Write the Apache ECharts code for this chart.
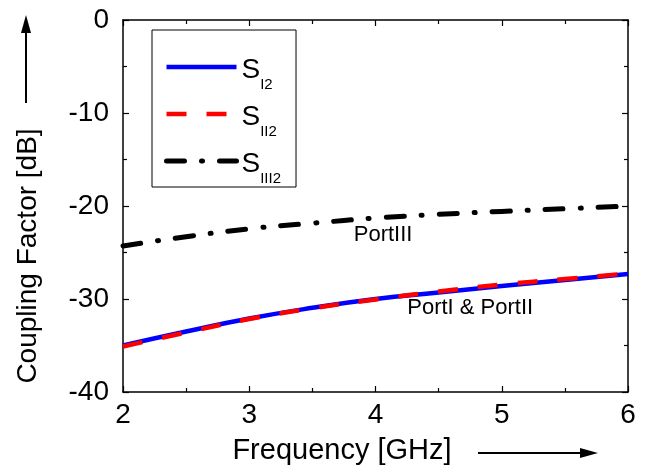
<!DOCTYPE html>
<html><head><meta charset="utf-8">
<script src="https://cdn.jsdelivr.net/npm/echarts@6/dist/echarts.min.js"></script>
<style>html,body{margin:0;padding:0;background:#fff}#c{width:651px;height:472px}</style>
</head><body><div id="c"></div>
<script>
var freq = [2, 2.5, 3, 3.5, 4, 4.5, 5, 5.5, 6];
var sI2 = [-35.0, -33.5, -32.1, -30.95, -30.0, -29.3, -28.6, -27.95, -27.3];
var sII2 = [-35.1, -33.6, -32.15, -31.0, -30.05, -29.2, -28.45, -27.85, -27.25];
var sIII2 = [-24.3, -23.3, -22.45, -21.85, -21.3, -20.9, -20.58, -20.3, -20.0];
var seriesNames = ['I2', 'II2', 'III2'];
var xTicks = [2, 3, 4, 5, 6];
var yTicks = [0, -10, -20, -30, -40];

function pairs(v){ return freq.map(function(f,i){ return [f, v[i]]; }); }
var FONT = '"Liberation Sans", Arial, sans-serif';
var chart = echarts.init(document.getElementById('c'));
var tickCommon = {show:true, inside:true, length:6, lineStyle:{color:'#000', width:1.2}};
var minorCommon = {show:true, splitNumber:2, length:4, lineStyle:{color:'#000', width:1.2}};
var axisLineStyle = {show:true, onZero:false, lineStyle:{color:'#000', width:1.5}};
var hiddenLabel = {show:false};
var lineW = {I2:4.5, II2:4.5, III2:5};
chart.setOption({
  animation:false,
  backgroundColor:'#fff',
  grid:{left:123, top:20, right:23, bottom:80, show:false},
  xAxis:[{
    type:'value', min:2, max:6, interval:1, position:'bottom',
    axisLine:axisLineStyle, axisTick:tickCommon, minorTick:minorCommon, splitLine:{show:false},
    axisLabel:{fontFamily:FONT, fontSize:28, color:'#000', margin:9,
      formatter:function(v){ return xTicks.indexOf(v)>=0 ? String(v) : ''; }}
  },{
    type:'value', min:2, max:6, interval:1, position:'top',
    axisLine:axisLineStyle, axisTick:tickCommon, minorTick:minorCommon, splitLine:{show:false}, axisLabel:hiddenLabel
  }],
  yAxis:[{
    type:'value', min:-40, max:0, interval:10, position:'left',
    axisLine:axisLineStyle, axisTick:tickCommon, minorTick:minorCommon, splitLine:{show:false},
    axisLabel:{fontFamily:FONT, fontSize:28, color:'#000', margin:14,
      formatter:function(v){ return yTicks.indexOf(v)>=0 ? String(v) : ''; }}
  },{
    type:'value', min:-40, max:0, interval:10, position:'right',
    axisLine:axisLineStyle, axisTick:tickCommon, minorTick:minorCommon, splitLine:{show:false}, axisLabel:hiddenLabel
  }],
  legend:{
    show:true, orient:'vertical', left:152, top:30,
    padding:[12,15,1,12], itemGap:-3, itemWidth:70, itemHeight:14, itemTextGap:8,
    borderColor:'#000', borderWidth:1, backgroundColor:'#fff',
    itemStyle:{opacity:0},
    data:seriesNames.map(function(n){return {name:n, lineStyle:{width:lineW[n]}};}),
    formatter:function(n){ return '{a|S}{b|' + n + '}'; },
    textStyle:{fontFamily:FONT, color:'#000',
      rich:{
        a:{fontFamily:FONT, fontSize:28, lineHeight:28, verticalAlign:'middle', padding:[6,0,0,0], color:'#000'},
        b:{fontFamily:FONT, fontSize:15, lineHeight:15, verticalAlign:'middle', padding:[35,0,0,0], color:'#000'}
      }}
  },
  series:[{
    name:seriesNames[0], type:'line', smooth:true, symbol:'none', data:pairs(sI2),
    lineStyle:{color:'#0000ff', width:4.5}, itemStyle:{color:'#0000ff'}, z:2,
    markPoint:{symbol:'circle', symbolSize:1, silent:true, itemStyle:{color:'rgba(0,0,0,0)'},
      data:[{coord:[4.75, -31.0], value:0,
      label:{show:true, formatter:'PortI & PortII', fontFamily:FONT, fontSize:22, color:'#000', position:'inside'}}]}
  },{
    name:seriesNames[1], type:'line', smooth:true, symbol:'none', data:pairs(sII2),
    lineStyle:{color:'#ff0000', width:4.5, type:[20,20]}, itemStyle:{color:'#ff0000'}, z:3
  },{
    name:seriesNames[2], type:'line', smooth:true, symbol:'none', data:pairs(sIII2),
    lineStyle:{color:'#000', width:5, type:[18,17,1,17], cap:'round'}, itemStyle:{color:'#000'}, z:3,
    markPoint:{symbol:'circle', symbolSize:1, silent:true, itemStyle:{color:'rgba(0,0,0,0)'},
      data:[{coord:[4.06, -23.06], value:0,
      label:{show:true, formatter:'PortIII', fontFamily:FONT, fontSize:22, color:'#000', position:'inside'}}]}
  }],
  graphic:[
    {type:'text', x:28, y:256, rotation:Math.PI/2, style:{text:'Coupling Factor [dB]', fontFamily:FONT, fontSize:28, fill:'#000', align:'center', verticalAlign:'middle'}},
    {type:'line', shape:{x1:26, y1:103, x2:26, y2:30}, style:{stroke:'#000', lineWidth:2}},
    {type:'polygon', shape:{points:[[26,15],[21,33],[31,33]]}, style:{fill:'#000'}},
    {type:'text', x:342, y:451, style:{text:'Frequency [GHz]', fontFamily:FONT, fontSize:29, fill:'#000', align:'center', verticalAlign:'middle'}},
    {type:'line', shape:{x1:478, y1:453, x2:584, y2:453}, style:{stroke:'#000', lineWidth:2}},
    {type:'polygon', shape:{points:[[598,453],[580,448],[580,458]]}, style:{fill:'#000'}}
  ]
});
</script></body></html>
